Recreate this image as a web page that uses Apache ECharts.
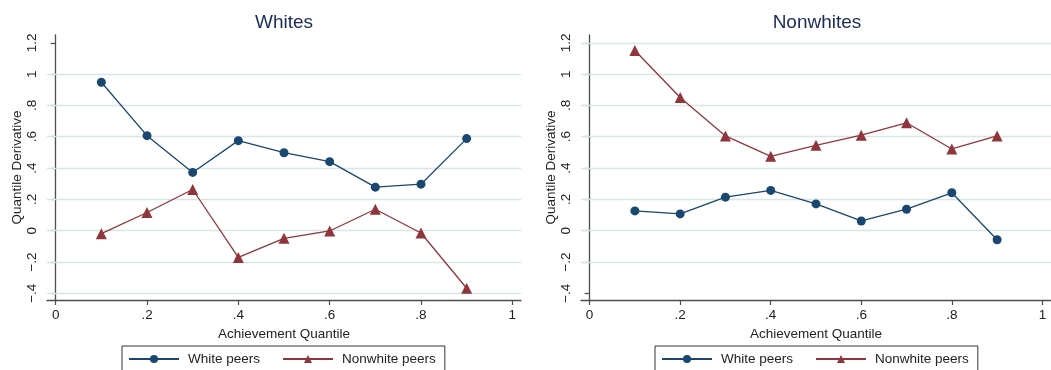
<!DOCTYPE html>
<html>
<head>
<meta charset="utf-8">
<script src="https://cdn.jsdelivr.net/npm/echarts@6/dist/echarts.min.js"></script>
<style>
  html, body { margin: 0; padding: 0; background: #fff; }
  #chart { width: 1051px; height: 370px; }
</style>
</head>
<body>
<div id="chart"></div>
<script>
// achievement quantiles on the x axis
const quantiles = [0.1, 0.2, 0.3, 0.4, 0.5, 0.6, 0.7, 0.8, 0.9]

// panel "Whites"
const whitesWhitePeers = [0.948, 0.607, 0.372, 0.575, 0.498, 0.441, 0.278, 0.297, 0.588]
const whitesNonwhitePeers = [-0.019, 0.116, 0.263, -0.171, -0.049, -0.002, 0.137, -0.015, -0.368]

// panel "Nonwhites"
const nonwhitesWhitePeers = [0.126, 0.107, 0.214, 0.257, 0.171, 0.062, 0.137, 0.242, -0.058]
const nonwhitesNonwhitePeers = [1.151, 0.851, 0.605, 0.475, 0.545, 0.610, 0.689, 0.522, 0.605]

const xTicks = [0, 0.2, 0.4, 0.6, 0.8, 1]
const yTicks = [-0.4, -0.2, 0, 0.2, 0.4, 0.6, 0.8, 1, 1.2]
const whitesGridlines = [-0.4, -0.2, 0, 0.2, 0.4, 0.6, 0.8, 1]
const nonwhitesGridlines = [-0.2, 0, 0.2, 0.4, 0.6, 0.8, 1, 1.2]

const NAVY = '#1a476f'
const MAROON = '#90353b'
const AXIS = '#4d4d4d'
const GRID = '#d8e6e8'
const FONT = 'Liberation Sans'

// stata style labels: .2, -.4, 0, 1
function fmt(v) {
	const r = Math.round(v * 10) / 10
	if (r === 0) return '0'
	const s = String(Math.abs(r)).replace(/^0\./, '.')
	return (r < 0 ? '\u2212' : '') + s
}

function xAxisFor(gridIndex) {
	return {
		type: 'value',
		gridIndex,
		min: -0.019,
		max: 1.019,
		name: 'Achievement Quantile',
		nameLocation: 'middle',
		nameGap: 19,
		nameTextStyle: { fontFamily: FONT, fontSize: 13.5, color: '#222' },
		axisLine: { show: true, onZero: false, lineStyle: { color: AXIS, width: 1.3 } },
		axisTick: { show: true, length: 5, customValues: xTicks, lineStyle: { color: AXIS, width: 1.2 } },
		axisLabel: { customValues: xTicks, margin: 8, fontFamily: FONT, fontSize: 13.5, color: '#222', formatter: fmt },
		splitLine: { show: false }
	}
}

function yAxisFor(gridIndex) {
	return {
		type: 'value',
		gridIndex,
		min: -0.443,
		max: 1.25,
		name: 'Quantile Derivative',
		nameLocation: 'middle',
		nameRotate: 90,
		nameGap: 23,
		nameTextStyle: { fontFamily: FONT, fontSize: 13.5, color: '#222' },
		axisLine: { show: true, lineStyle: { color: AXIS, width: 1.3 } },
		axisTick: { show: true, length: 5, customValues: yTicks, lineStyle: { color: AXIS, width: 1.2 } },
		axisLabel: { customValues: yTicks, rotate: 90, margin: 8, fontFamily: FONT, fontSize: 13.5, color: '#222', formatter: fmt },
		splitLine: { show: false }
	}
}

function gridLines(idx, values) {
	return {
		type: 'line',
		xAxisIndex: idx,
		yAxisIndex: idx,
		data: [],
		z: 1,
		silent: true,
		markLine: {
			z: 1,
			silent: true,
			symbol: ['none', 'none'],
			label: { show: false },
			lineStyle: { color: GRID, width: 1.3, type: 'solid' },
			emphasis: { disabled: true },
			data: values.map(v => ({ yAxis: v }))
		}
	}
}

function lineSeries(name, idx, ys, color, symbol, size) {
	return {
		name,
		type: 'line',
		xAxisIndex: idx,
		yAxisIndex: idx,
		z: 3,
		data: quantiles.map((q, i) => [q, ys[i]]),
		symbol,
		symbolSize: size,
		showAllSymbol: true,
		lineStyle: { color, width: 1.3 },
		itemStyle: { color },
		emphasis: { disabled: true }
	}
}

function legendFor(left) {
	return {
		left,
		top: 346,
		orient: 'horizontal',
		data: ['White peers', 'Nonwhite peers'],
		itemWidth: 50,
		itemHeight: 10,
		itemGap: 22,
		padding: [6, 9, 20, 6],
		borderColor: '#333',
		borderWidth: 1,
		borderRadius: 0,
		selectedMode: false,
		textStyle: { fontFamily: FONT, fontSize: 13.5, color: '#222', padding: [0, 0, 0, 4] }
	}
}

const chart = echarts.init(document.querySelector('#chart'), null, { renderer: 'canvas' })
chart.setOption({
	animation: false,
	backgroundColor: '#fff',
	title: [
		{ text: 'Whites', left: 279, top: 8, textAlign: 'center',
			textStyle: { fontFamily: FONT, fontSize: 19, fontWeight: 'normal', color: '#1c2a58' } },
		{ text: 'Nonwhites', left: 812, top: 8, textAlign: 'center',
			textStyle: { fontFamily: FONT, fontSize: 19, fontWeight: 'normal', color: '#1c2a58' } }
	],
	grid: [
		{ left: 47, top: 35, width: 474, height: 265 },
		{ left: 581, top: 35, width: 474, height: 265 }
	],
	xAxis: [xAxisFor(0), xAxisFor(1)],
	yAxis: [yAxisFor(0), yAxisFor(1)],
	legend: [legendFor(122), legendFor(655)],
	series: [
		gridLines(0, whitesGridlines),
		gridLines(1, nonwhitesGridlines),
		lineSeries('White peers', 0, whitesWhitePeers, NAVY, 'circle', 9),
		lineSeries('Nonwhite peers', 0, whitesNonwhitePeers, MAROON, 'triangle', 11),
		lineSeries('White peers', 1, nonwhitesWhitePeers, NAVY, 'circle', 9),
		lineSeries('Nonwhite peers', 1, nonwhitesNonwhitePeers, MAROON, 'triangle', 11)
	]
})
</script>
</body>
</html>
